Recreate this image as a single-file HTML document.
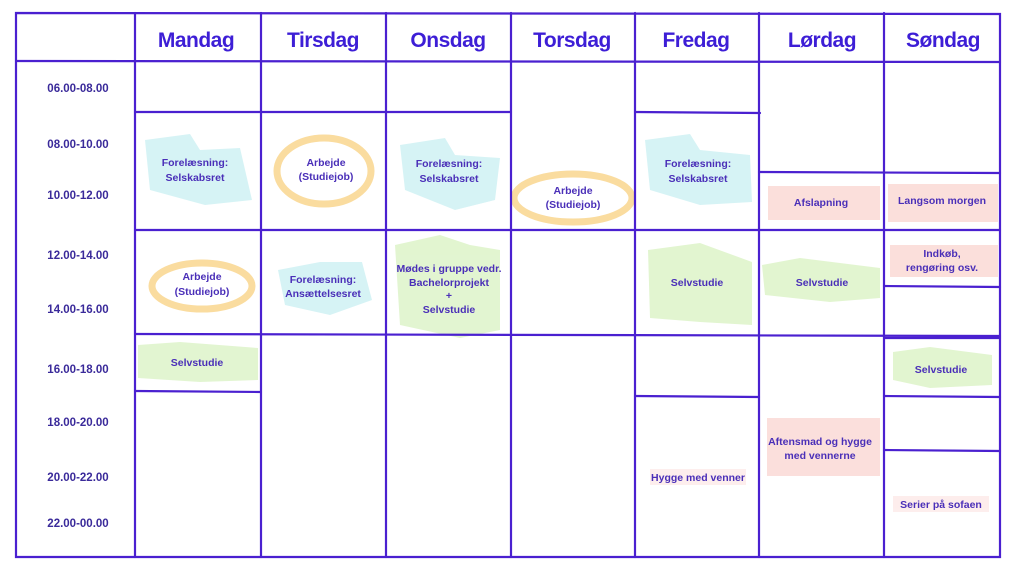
<!DOCTYPE html>
<html><head><meta charset="utf-8"><style>
html,body{margin:0;padding:0;background:#fff;}
svg{display:block}
.h{font-family:"Liberation Sans",sans-serif;font-weight:bold;font-size:21px;fill:#3d1ed6;text-anchor:middle;letter-spacing:-0.5px}
.t{font-family:"Liberation Sans",sans-serif;font-weight:bold;font-size:11.5px;fill:#3a2a9a;text-anchor:middle}
.c{font-family:"Liberation Sans",sans-serif;font-weight:bold;font-size:10.5px;fill:#4a2fb8;text-anchor:middle}
.l{stroke:#4a20d0;stroke-width:2.2;fill:none;stroke-linecap:round}
</style></head><body>
<svg width="1024" height="576" viewBox="0 0 1024 576">
<!-- highlights -->
<g opacity="0.9">
<!-- teal -->
<path d="M145 140 L190 134 L200 150 L240 148 L252 200 L205 205 L150 190 Z" fill="#d2f2f4"/>
<path d="M400 145 L445 138 L455 155 L500 158 L495 200 L455 210 L405 190 Z" fill="#d2f2f4"/>
<path d="M645 140 L690 134 L700 150 L750 155 L752 202 L700 205 L650 190 Z" fill="#d2f2f4"/>
<path d="M278 270 L320 262 L362 262 L372 300 L330 315 L285 305 Z" fill="#d2f2f4"/>
<!-- green -->
<path d="M395 245 L440 235 L470 245 L500 250 L500 330 L460 338 L400 325 Z" fill="#dff4cc"/>
<path d="M648 250 L700 243 L752 262 L752 325 L700 322 L650 318 Z" fill="#dff4cc"/>
<path d="M762 265 L800 258 L880 268 L880 298 L830 302 L765 295 Z" fill="#dff4cc"/>
<path d="M138 345 L180 342 L258 348 L258 380 L200 382 L138 378 Z" fill="#dff4cc"/>
<path d="M893 352 L930 347 L992 355 L992 385 L930 388 L893 380 Z" fill="#dff4cc"/>
<!-- pink -->
<rect x="768" y="186" width="112" height="34" fill="#fbdcd8"/>
<rect x="888" y="184" width="110" height="38" fill="#fbdcd8"/>
<rect x="890" y="245" width="108" height="32" fill="#fbdcd8"/>
<rect x="767" y="418" width="113" height="58" fill="#fbdcd8"/>
<rect x="650" y="469" width="96" height="16" fill="#fdeceb"/>
<rect x="893" y="496" width="96" height="16" fill="#fdeceb"/>
</g>
<!-- yellow ovals -->
<ellipse cx="324" cy="171" rx="47" ry="33" fill="none" stroke="#fadc9f" stroke-width="7"/>
<ellipse cx="202" cy="286" rx="50" ry="23" fill="none" stroke="#fadc9f" stroke-width="7"/>
<ellipse cx="573" cy="198" rx="59" ry="24" fill="none" stroke="#fadc9f" stroke-width="7"/>
<!-- grid -->
<g class="l">
<path d="M16 13 L1000 14 L1000 557 L16 557 Z"/>
<path d="M16 61 L1000 62"/>
<path d="M135 13 L135 557"/>
<path d="M261 13 L261 557"/>
<path d="M386 13 L386 557"/>
<path d="M511 13 L511 557"/>
<path d="M635 13 L635 557"/>
<path d="M759 13 L759 557"/>
<path d="M884 13 L884 557"/>
<path d="M135 112 L511 112"/>
<path d="M635 112 L760 113"/>
<path d="M135 230 L1000 230"/>
<path d="M135 334 L1000 336"/>
<path d="M135 391 L261 392"/>
<path d="M635 396 L759 397"/>
<path d="M759 172 L1000 173"/>
<path d="M884 286 L1000 287"/>
<path d="M884 338 L1000 338"/>
<path d="M884 396 L1000 397"/>
<path d="M884 450 L1000 451"/>
</g>
<!-- headers -->
<text class="h" x="196" y="47">Mandag</text>
<text class="h" x="323" y="47">Tirsdag</text>
<text class="h" x="448" y="47">Onsdag</text>
<text class="h" x="572" y="47">Torsdag</text>
<text class="h" x="696" y="47">Fredag</text>
<text class="h" x="822" y="47">Lørdag</text>
<text class="h" x="943" y="47">Søndag</text>
<!-- times -->
<text class="t" x="78" y="92">06.00-08.00</text>
<text class="t" x="78" y="148">08.00-10.00</text>
<text class="t" x="78" y="199">10.00-12.00</text>
<text class="t" x="78" y="259">12.00-14.00</text>
<text class="t" x="78" y="313">14.00-16.00</text>
<text class="t" x="78" y="373">16.00-18.00</text>
<text class="t" x="78" y="426">18.00-20.00</text>
<text class="t" x="78" y="481">20.00-22.00</text>
<text class="t" x="78" y="527">22.00-00.00</text>
<!-- cells -->
<text class="c" x="195" y="166">Forelæsning:</text><text class="c" x="195" y="181">Selskabsret</text>
<text class="c" x="326" y="166">Arbejde</text><text class="c" x="326" y="180">(Studiejob)</text>
<text class="c" x="449" y="167">Forelæsning:</text><text class="c" x="449" y="182">Selskabsret</text>
<text class="c" x="573" y="194">Arbejde</text><text class="c" x="573" y="208">(Studiejob)</text>
<text class="c" x="698" y="167">Forelæsning:</text><text class="c" x="698" y="182">Selskabsret</text>
<text class="c" x="821" y="206">Afslapning</text>
<text class="c" x="942" y="204">Langsom morgen</text>
<text class="c" x="202" y="280">Arbejde</text><text class="c" x="202" y="295">(Studiejob)</text>
<text class="c" x="323" y="283">Forelæsning:</text><text class="c" x="323" y="297">Ansættelsesret</text>
<text class="c" x="449" y="272">Mødes i gruppe vedr.</text><text class="c" x="449" y="286">Bachelorprojekt</text><text class="c" x="449" y="299">+</text><text class="c" x="449" y="313">Selvstudie</text>
<text class="c" x="697" y="286">Selvstudie</text>
<text class="c" x="822" y="286">Selvstudie</text>
<text class="c" x="942" y="257">Indkøb,</text><text class="c" x="942" y="271">rengøring osv.</text>
<text class="c" x="197" y="366">Selvstudie</text>
<text class="c" x="941" y="373">Selvstudie</text>
<text class="c" x="820" y="445">Aftensmad og hygge</text><text class="c" x="820" y="459">med vennerne</text>
<text class="c" x="698" y="481">Hygge med venner</text>
<text class="c" x="941" y="508">Serier på sofaen</text>
</svg>
</body></html>
